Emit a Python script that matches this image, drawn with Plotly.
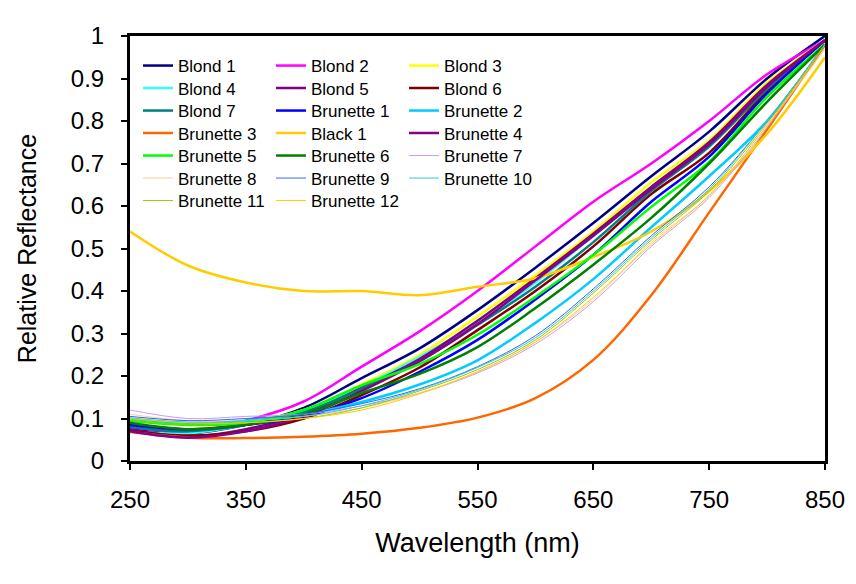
import plotly.graph_objects as go

wavelength = [250, 300, 350, 400, 450, 500, 550, 600, 650, 700, 750, 800, 850]

names = ["Blond 1", "Blond 2", "Blond 3", "Blond 4", "Blond 5", "Blond 6",
         "Blond 7", "Brunette 1", "Brunette 2", "Brunette 3", "Black 1", "Brunette 4",
         "Brunette 5", "Brunette 6", "Brunette 7", "Brunette 8", "Brunette 9", "Brunette 10",
         "Brunette 11", "Brunette 12"]

blond_1 = [0.075, 0.065, 0.085, 0.125, 0.195, 0.265, 0.355, 0.455, 0.56, 0.67, 0.775, 0.90, 1.00]
blond_2 = [0.08, 0.07, 0.095, 0.14, 0.222, 0.305, 0.40, 0.505, 0.61, 0.70, 0.80, 0.91, 0.99]
blond_3 = [0.085, 0.075, 0.09, 0.12, 0.18, 0.25, 0.34, 0.437, 0.54, 0.655, 0.755, 0.89, 0.99]
blond_4 = [0.07, 0.065, 0.085, 0.115, 0.175, 0.245, 0.325, 0.42, 0.53, 0.64, 0.75, 0.88, 0.99]
blond_5 = [0.075, 0.058, 0.075, 0.11, 0.172, 0.24, 0.33, 0.43, 0.535, 0.645, 0.75, 0.885, 0.99]
blond_6 = [0.07, 0.06, 0.07, 0.10, 0.155, 0.22, 0.308, 0.40, 0.505, 0.628, 0.725, 0.87, 0.99]
blond_7 = [0.08, 0.07, 0.085, 0.115, 0.17, 0.235, 0.32, 0.41, 0.515, 0.635, 0.74, 0.875, 0.99]
brunette_1 = [0.085, 0.075, 0.085, 0.105, 0.148, 0.21, 0.285, 0.38, 0.485, 0.61, 0.716, 0.865, 0.99]
brunette_2 = [0.10, 0.09, 0.095, 0.11, 0.139, 0.18, 0.237, 0.325, 0.428, 0.55, 0.67, 0.80, 0.98]
brunette_3 = [0.068, 0.055, 0.054, 0.057, 0.064, 0.078, 0.102, 0.148, 0.238, 0.39, 0.585, 0.78, 0.98]
black_1 = [0.54, 0.46, 0.42, 0.40, 0.40, 0.39, 0.41, 0.43, 0.48, 0.54, 0.635, 0.77, 0.95]
brunette_4 = [0.07, 0.055, 0.07, 0.105, 0.165, 0.235, 0.322, 0.425, 0.53, 0.64, 0.745, 0.88, 0.99]
brunette_5 = [0.095, 0.085, 0.09, 0.12, 0.178, 0.228, 0.297, 0.386, 0.485, 0.598, 0.704, 0.857, 0.98]
brunette_6 = [0.09, 0.075, 0.085, 0.11, 0.16, 0.205, 0.268, 0.36, 0.462, 0.572, 0.70, 0.845, 0.98]
brunette_7 = [0.12, 0.10, 0.105, 0.11, 0.13, 0.16, 0.207, 0.275, 0.375, 0.505, 0.62, 0.785, 0.98]
brunette_8 = [0.11, 0.095, 0.095, 0.105, 0.125, 0.16, 0.21, 0.28, 0.38, 0.515, 0.625, 0.79, 0.98]
brunette_9 = [0.105, 0.095, 0.10, 0.11, 0.135, 0.17, 0.222, 0.295, 0.405, 0.53, 0.645, 0.80, 0.98]
brunette_10 = [0.10, 0.09, 0.095, 0.105, 0.13, 0.168, 0.22, 0.29, 0.40, 0.525, 0.64, 0.80, 0.98]
brunette_11 = [0.095, 0.085, 0.09, 0.10, 0.125, 0.165, 0.215, 0.285, 0.395, 0.52, 0.635, 0.795, 0.98]
brunette_12 = [0.10, 0.09, 0.09, 0.10, 0.12, 0.158, 0.21, 0.28, 0.385, 0.51, 0.625, 0.79, 0.97]

series = [blond_1, blond_2, blond_3, blond_4, blond_5, blond_6, blond_7,
          brunette_1, brunette_2, brunette_3, black_1, brunette_4, brunette_5,
          brunette_6, brunette_7, brunette_8, brunette_9, brunette_10, brunette_11,
          brunette_12]

colors = ["#000080", "#FF00FF", "#FFFF00", "#33FFFF", "#800080", "#800000",
          "#008080", "#0000FF", "#00CCFF", "#FF6600", "#FFCC00", "#880088",
          "#00FF00", "#008000", "#CC99FF", "#FFCC99", "#3366FF", "#33CCCC",
          "#99CC00", "#FFCC00"]
widths = [2.5] * 14 + [1] * 6

x_ticks = [250, 350, 450, 550, 650, 750, 850]
y_ticks = [0, 0.1, 0.2, 0.3, 0.4, 0.5, 0.6, 0.7, 0.8, 0.9, 1]
y_tick_text = ["0", "0.1", "0.2", "0.3", "0.4", "0.5", "0.6", "0.7", "0.8", "0.9", "1"]

W, H = 856, 584
ML, MR, MT, MB = 130, 31, 36, 123
PW, PH = W - ML - MR, H - MT - MB

fig = go.Figure()
for i, (nm, ys, c, w) in enumerate(zip(names, series, colors, widths)):
    row = i // 3
    lg = "legend" if row == 0 else f"legend{row + 1}"
    fig.add_trace(go.Scatter(x=wavelength, y=ys, name=nm, mode="lines",
                             line=dict(color=c, width=w, shape="spline", smoothing=1.0),
                             legend=lg))

font = "Liberation Sans, Arial, sans-serif"
layout_legends = {}
n_rows = (len(names) + 2) // 3
for r in range(n_rows):
    key = "legend" if r == 0 else f"legend{r + 1}"
    ypx = 66 + 22.5 * r
    layout_legends[key] = dict(
        orientation="h", x=(138 - ML) / PW, xanchor="left",
        y=(MT + PH - ypx) / PH, yanchor="middle",
        entrywidth=88, entrywidthmode="pixels",
        font=dict(family=font, size=17, color="black"),
        bgcolor="rgba(0,0,0,0)", borderwidth=0, itemclick=False,
        tracegroupgap=0,
    )

fig.update_layout(
    width=W, height=H,
    margin=dict(l=ML, r=MR, t=MT, b=MB, autoexpand=False),
    paper_bgcolor="white", plot_bgcolor="white",
    font=dict(family=font, color="black"),
    showlegend=True,
    **layout_legends,
)

fig.update_xaxes(
    range=[250, 850], tickvals=x_ticks, ticktext=[str(v) for v in x_ticks],
    showgrid=False, zeroline=False, showline=True, linecolor="black", linewidth=3,
    mirror=True, ticks="outside", ticklen=6, tickwidth=1.5, tickcolor="black",
    tickfont=dict(size=24, family=font), ticklabelstandoff=9,
    title=dict(text="Wavelength (nm)", font=dict(size=27, family=font), standoff=22),
)
fig.update_yaxes(
    range=[0, 1], tickvals=y_ticks, ticktext=y_tick_text,
    showgrid=False, zeroline=False, showline=True, linecolor="black", linewidth=3,
    mirror=True, ticks="outside", ticklen=6, tickwidth=1.5, tickcolor="black",
    tickfont=dict(size=24, family=font), ticklabelstandoff=12,
    title=dict(text="Relative Reflectance", font=dict(size=25, family=font), standoff=28),
)

fig.write_html("out.html")
